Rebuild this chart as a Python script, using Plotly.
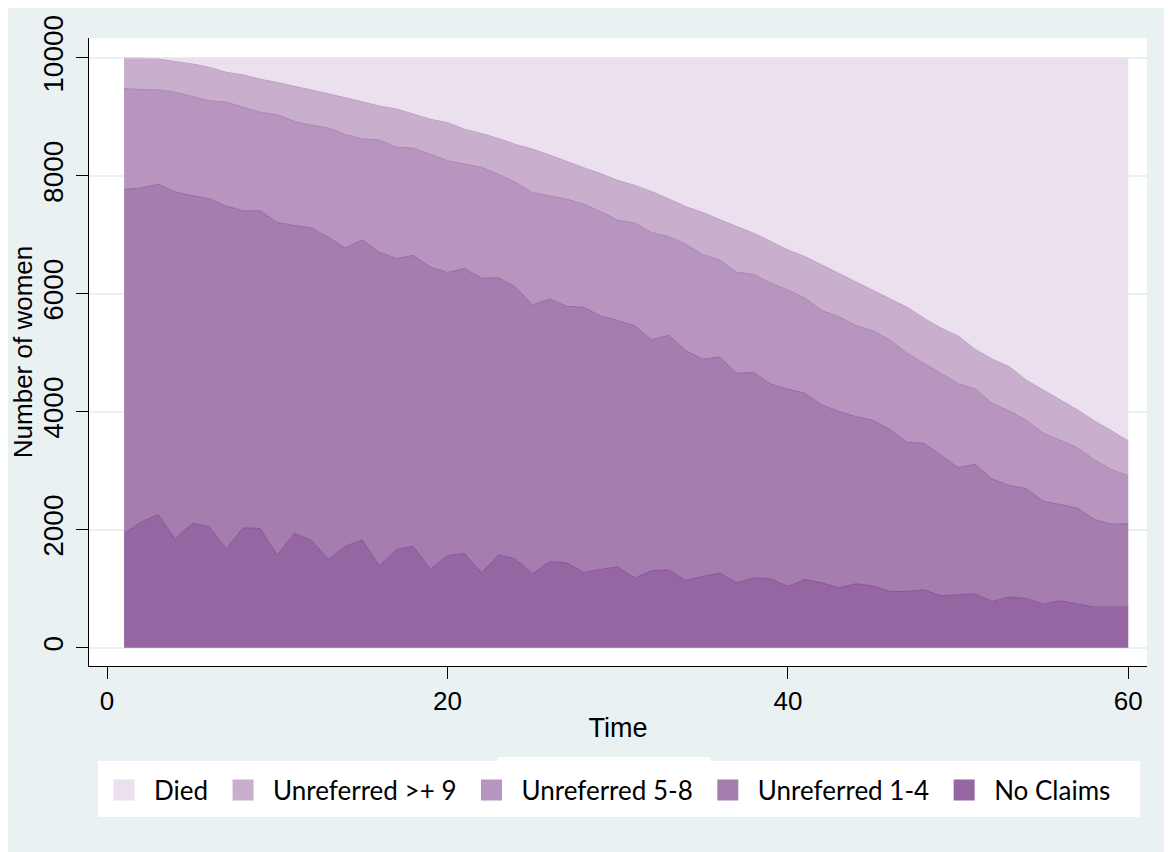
import plotly.graph_objects as go

time = list(range(1, 61))

# Stacked boundaries (cumulative number of women)
no_claims = [1943, 2130, 2260, 1847, 2107, 2056, 1678, 2034, 2023, 1571,
             1938, 1825, 1497, 1723, 1825, 1390, 1667, 1718, 1333, 1565,
             1599, 1271, 1576, 1503, 1254, 1463, 1441, 1277, 1325, 1373,
             1185, 1305, 1322, 1141, 1209, 1266, 1102, 1186, 1169, 1040,
             1158, 1102, 1017, 1085, 1051, 955, 955, 983, 881, 898,
             915, 785, 859, 836, 740, 797, 746, 689, 689, 689]

unref_1_4 = [7770, 7795, 7860, 7730, 7665, 7615, 7490, 7410, 7410, 7210,
             7160, 7120, 6960, 6776, 6918, 6708, 6601, 6652, 6453, 6363,
             6431, 6266, 6272, 6113, 5813, 5915, 5790, 5773, 5627, 5550,
             5458, 5220, 5299, 5040, 4893, 4927, 4655, 4667, 4469, 4384,
             4316, 4119, 4006, 3921, 3853, 3700, 3485, 3465, 3263, 3054,
             3110, 2861, 2754, 2697, 2487, 2427, 2370, 2178, 2095, 2105]

unref_5_8 = [9483, 9465, 9461, 9421, 9348, 9275, 9253, 9169, 9079, 9039,
             8927, 8860, 8815, 8702, 8629, 8612, 8489, 8472, 8360, 8258,
             8202, 8146, 8028, 7893, 7719, 7669, 7607, 7522, 7397, 7250,
             7200, 7040, 6972, 6842, 6667, 6576, 6367, 6333, 6181, 6068,
             5927, 5718, 5616, 5463, 5373, 5220, 4994, 4825, 4655, 4480,
             4390, 4145, 4015, 3860, 3642, 3515, 3395, 3188, 3022, 2920]

unref_9_plus = [10000, 10000, 9983, 9944, 9899, 9843, 9758, 9713, 9640, 9584,
                9522, 9466, 9393, 9326, 9253, 9185, 9135, 9045, 8961, 8904,
                8792, 8719, 8635, 8534, 8455, 8354, 8242, 8140, 8040, 7925,
                7840, 7734, 7610, 7480, 7379, 7254, 7141, 7028, 6887, 6746,
                6633, 6492, 6350, 6209, 6068, 5927, 5774, 5588, 5418, 5288,
                5062, 4893, 4768, 4540, 4376, 4205, 4035, 3850, 3680, 3510]

died = [10000] * 60

series_names = ["No Claims", "Unreferred 1-4", "Unreferred 5-8", "Unreferred >+ 9", "Died"]
series_values = [no_claims, unref_1_4, unref_5_8, unref_9_plus, died]
fill_colors = ["#9566A2", "#A57EAF", "#B895BF", "#C9AECE", "#EBE0EE"]
line_colors = ["#86539A", "#9568A3", "#A985B2", "#BC9FC3", "#EBE0EE"]

y_ticks = [0, 2000, 4000, 6000, 8000, 10000]
y_tick_text = ["0", "2000", "4000", "6000", "8000", "10000"]
x_ticks = [0, 20, 40, 60]

fig = go.Figure()
for i, (name, vals) in enumerate(zip(series_names, series_values)):
    fig.add_trace(go.Scatter(
        x=time, y=vals, name=name, mode="lines",
        line=dict(color=line_colors[i], width=1),
        fill="tozeroy" if i == 0 else "tonexty",
        fillcolor=fill_colors[i], showlegend=False, hoverinfo="skip"))

# legend entries (order as in the reference)
for i in [4, 3, 2, 1, 0]:
    fig.add_trace(go.Scatter(
        x=[None], y=[None], name=series_names[i], mode="markers",
        marker=dict(symbol="square", size=16, color=fill_colors[i],
                    line=dict(color=fill_colors[i], width=5)),
        showlegend=True))

W, H = 1172, 852
L, R, T, B = 81, 33, 30, 194
pw, ph = W - L - R, H - T - B

def px_x(x):
    return (x - L) / pw

def px_y(y):
    return (H - B - y) / ph

bg = "#EAF1F3"
shapes = [
    dict(type="rect", xref="paper", yref="paper", x0=px_x(90), x1=px_x(1132),
         y0=px_y(809), y1=px_y(753), fillcolor="white", line=dict(width=0), layer="above"),
    dict(type="rect", xref="paper", yref="paper", x0=px_x(490), x1=px_x(702),
         y0=px_y(754), y1=px_y(749), fillcolor="white", line=dict(width=0), layer="above"),
]

fig.update_layout(
    width=W, height=H,
    margin=dict(l=L, r=R, t=T, b=B, autoexpand=False),
    paper_bgcolor=bg, plot_bgcolor="white",
    font=dict(family="Liberation Sans, Arial, sans-serif", color="black", size=26),
    shapes=shapes,
    showlegend=True,
    legend=dict(orientation="h", x=px_x(86), xanchor="left", y=px_y(782), yanchor="middle",
                bgcolor="rgba(0,0,0,0)", font=dict(family="Lato, sans-serif", size=26, color="black"),
                itemwidth=50, tracegroupgap=0, traceorder="normal"),
    xaxis=dict(range=[-1.06, 61.1], tickmode="array", tickvals=x_ticks,
               ticks="outside", ticklen=12, tickwidth=1, tickcolor="black",
               showline=True, linecolor="black", linewidth=1, showgrid=False, zeroline=False,
               tickfont=dict(size=26),
               title=dict(text="Time", font=dict(size=27), standoff=2)),
    yaxis=dict(range=[-309, 10339], tickmode="array", tickvals=y_ticks, ticktext=y_tick_text,
               ticks="outside", ticklen=12, tickwidth=1, tickcolor="black", tickangle=-90,
               ticklabelstandoff=2,
               showline=True, linecolor="black", linewidth=1, showgrid=True,
               gridcolor=bg, gridwidth=2, zeroline=False,
               tickfont=dict(size=28),
               title=dict(text="Number of women", font=dict(size=26), standoff=8)),
)

fig.write_html("out.html")
